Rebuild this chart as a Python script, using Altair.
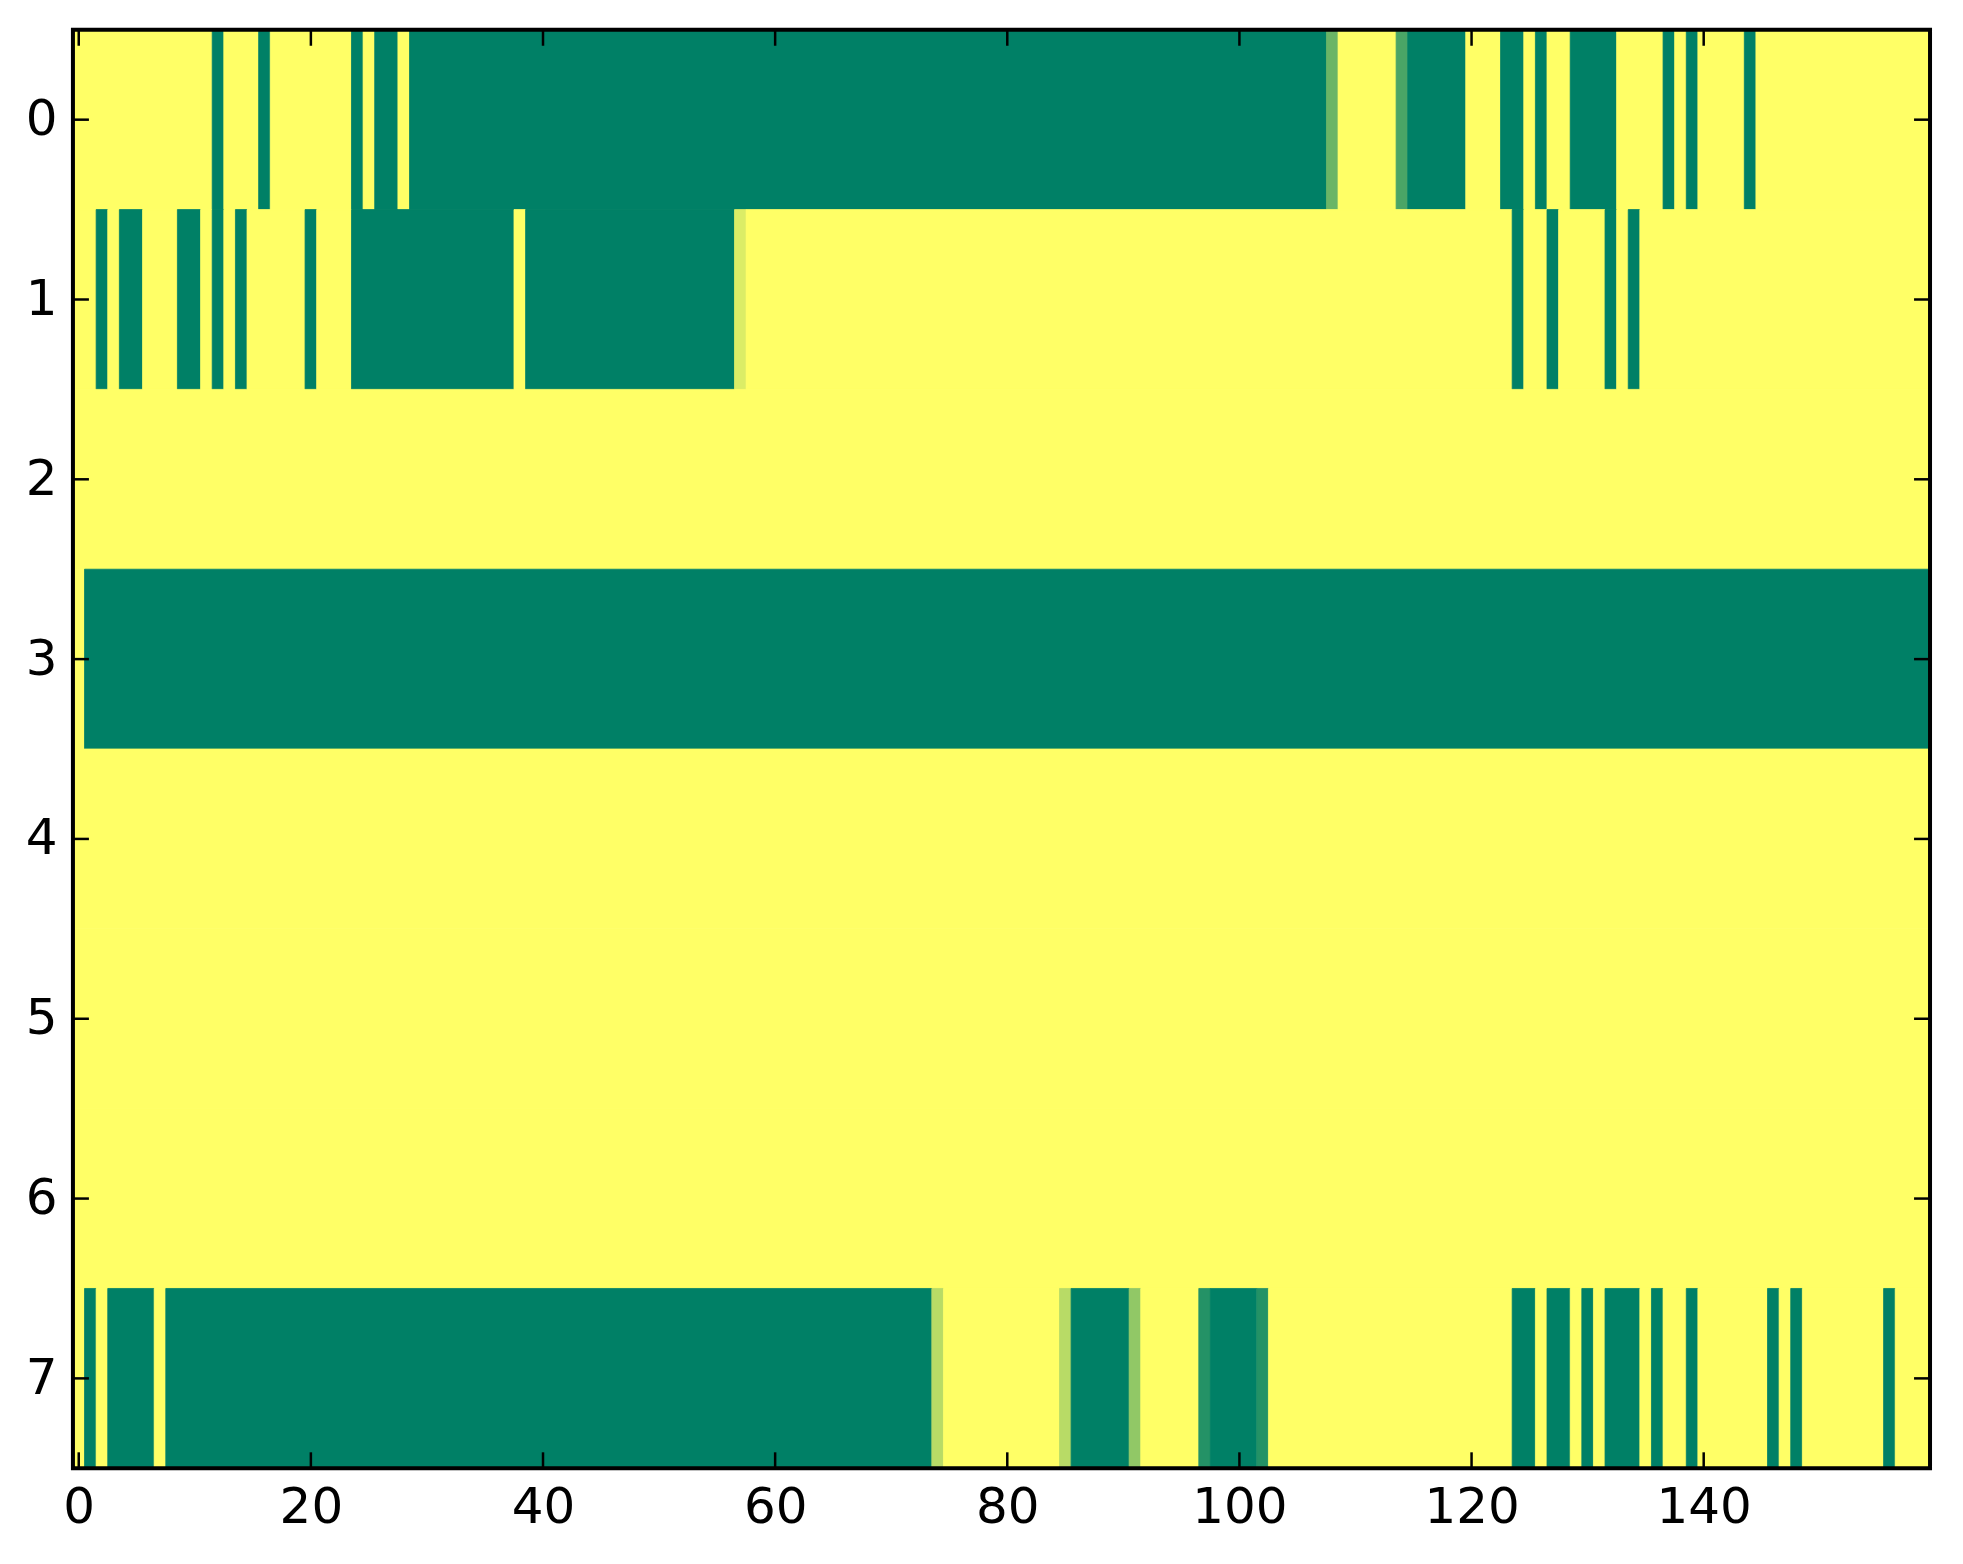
import altair as alt
import pandas as pd

# ---- data (value 0 = green, 1 = yellow) ----
n_cols = 160
n_rows = 8

# runs of value 0 (inclusive column ranges) per row
row0_zero_runs = [(12, 12), (16, 16), (24, 24), (26, 27), (29, 107), (115, 119),
                  (123, 124), (126, 126), (129, 132), (137, 137), (139, 139), (144, 144)]
row1_zero_runs = [(2, 2), (4, 5), (9, 10), (12, 12), (14, 14), (20, 20), (24, 37),
                  (39, 56), (124, 124), (127, 127), (132, 132), (134, 134)]
row2_zero_runs = []
row3_zero_runs = [(1, 159)]
row4_zero_runs = []
row5_zero_runs = []
row6_zero_runs = []
row7_zero_runs = [(1, 1), (3, 6), (8, 73), (86, 90), (98, 101), (124, 125), (127, 128),
                  (130, 130), (132, 134), (136, 136), (139, 139), (146, 146),
                  (148, 148), (156, 156)]

# cells with intermediate values
row0_partial = {108: 0.42, 114: 0.29}
row1_partial = {57: 0.86}
row7_partial = {74: 0.72, 85: 0.72, 91: 0.57, 97: 0.14, 102: 0.14}

x_ticks = [0, 20, 40, 60, 80, 100, 120, 140]
y_ticks = [0, 1, 2, 3, 4, 5, 6, 7]

zero_runs = [row0_zero_runs, row1_zero_runs, row2_zero_runs, row3_zero_runs,
             row4_zero_runs, row5_zero_runs, row6_zero_runs, row7_zero_runs]
partials = {0: row0_partial, 1: row1_partial, 7: row7_partial}

# build cells, merging consecutive equal cells of a row into one rectangle
records = []
for r in range(n_rows):
    vals = [1.0] * n_cols
    for a, b in zero_runs[r]:
        for c in range(a, b + 1):
            vals[c] = 0.0
    for c, v in partials.get(r, {}).items():
        vals[c] = v
    start = 0
    for c in range(1, n_cols + 1):
        if c == n_cols or vals[c] != vals[start]:
            records.append({"row": r, "x0": start - 0.5, "x1": c - 0.5,
                            "y0": r - 0.5, "y1": r + 0.5, "v": vals[start]})
            start = c
df = pd.DataFrame(records)

W, H = 1859, 1440
TL = 16

xscale = alt.Scale(domain=[-0.5, n_cols - 0.5], nice=False, zero=False)
yscale = alt.Scale(domain=[-0.5, n_rows - 0.5], nice=False, zero=False, reverse=True)
cscale = alt.Scale(domain=[0, 1], range=["#008066", "#ffff66"], interpolate="rgb")

xaxis = alt.Axis(values=x_ticks, ticks=False, domain=False, grid=False,
                 title=None, labelFontSize=50, labelFont="DejaVu Sans",
                 labelColor="black", labelPadding=14, labelFlush=False)
yaxis = alt.Axis(values=y_ticks, ticks=False, domain=False, grid=False,
                 title=None, labelFontSize=50, labelFont="DejaVu Sans",
                 labelColor="black", labelPadding=16, labelFlush=False)

heat = alt.Chart(df).mark_rect(strokeWidth=0.8).encode(
    x=alt.X("x0:Q", scale=xscale, axis=xaxis),
    x2="x1:Q",
    y=alt.Y("y0:Q", scale=yscale, axis=yaxis),
    y2="y1:Q",
    color=alt.Color("v:Q", scale=cscale, legend=None),
    stroke=alt.Stroke("v:Q", scale=cscale, legend=None),
)

xt = pd.DataFrame({"t": x_ticks})
yt = pd.DataFrame({"t": y_ticks})

tick_bottom = alt.Chart(xt).mark_rule(color="black", strokeWidth=2.5).encode(
    x=alt.X("t:Q", scale=xscale, axis=xaxis), y=alt.value(H), y2=alt.value(H - TL))
tick_top = alt.Chart(xt).mark_rule(color="black", strokeWidth=2.5).encode(
    x=alt.X("t:Q", scale=xscale, axis=xaxis), y=alt.value(0), y2=alt.value(TL))
tick_left = alt.Chart(yt).mark_rule(color="black", strokeWidth=2.5).encode(
    y=alt.Y("t:Q", scale=yscale, axis=yaxis), x=alt.value(0), x2=alt.value(TL))
tick_right = alt.Chart(yt).mark_rule(color="black", strokeWidth=2.5).encode(
    y=alt.Y("t:Q", scale=yscale, axis=yaxis), x=alt.value(W), x2=alt.value(W - TL))

frame = alt.Chart(pd.DataFrame({"k": [0]})).mark_rect(
    fillOpacity=0, stroke="black", strokeWidth=4).encode(
    x=alt.value(0), x2=alt.value(W), y=alt.value(0), y2=alt.value(H))

chart = alt.layer(heat, tick_bottom, tick_top, tick_left, tick_right, frame).properties(
    width=W, height=H,
    autosize=alt.AutoSizeParams(type="none"),
    padding={"left": 65, "top": 21, "right": 25, "bottom": 80},
).configure_view(strokeWidth=0).configure(background="white")

chart.save("out.html", embed_options={"renderer": "svg", "actions": False})
